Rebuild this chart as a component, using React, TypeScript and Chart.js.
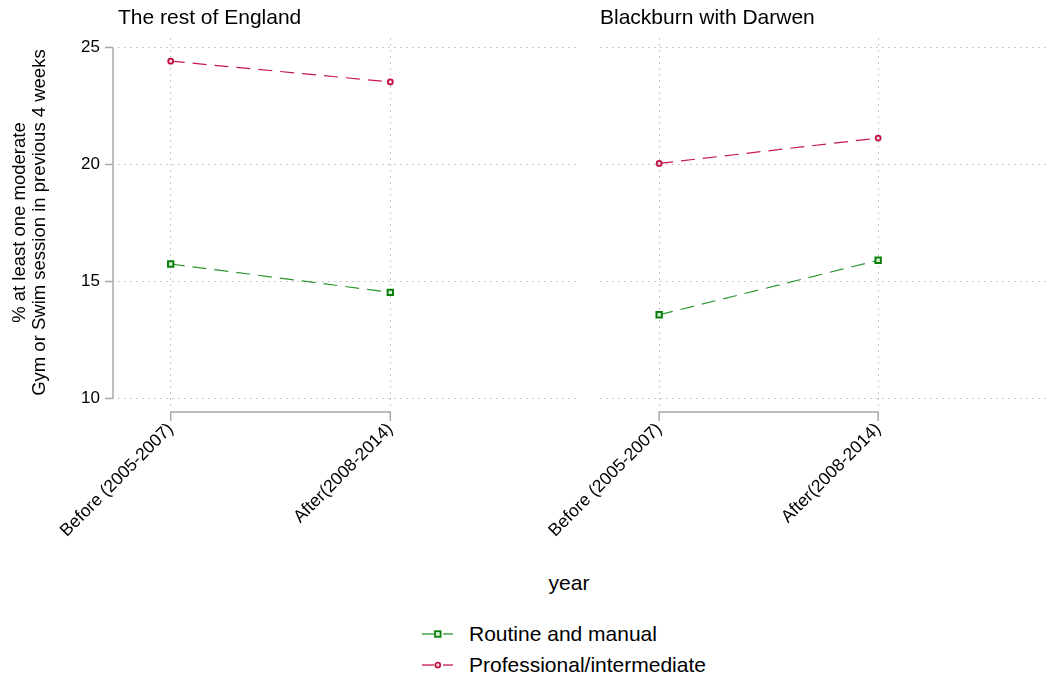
import React, { useEffect, useRef } from "react";
import { Chart, registerables } from "chart.js";

Chart.register(...registerables);

// ---------- data ----------
const periods = ["Before (2005-2007)", "After(2008-2014)"];
const periodPositions = [0, 1];
const panelTitles = ["The rest of England", "Blackburn with Darwen"];
const seriesNames = ["Routine and manual", "Professional/intermediate"];
const englandRoutine = [15.75, 14.54];
const englandProfessional = [24.42, 23.53];
const blackburnRoutine = [13.58, 15.91];
const blackburnProfessional = [20.05, 21.13];
const yTicks = [10, 15, 20, 25];
const yAxisTitle = ["% at least one moderate", "Gym or Swim session in previous 4 weeks"];
const xAxisTitle = "year";

// ---------- styles ----------
const FONT = "'Liberation Sans', Arial, Helvetica, sans-serif";
const GREEN_LINE = "#2b962b";
const GREEN_MARK = "#0a7f0a";
const GREEN_FILL = "#d6efd6";
const RED_LINE = "#c8184c";
const RED_MARK = "#c0103f";
const RED_FILL = "#f6d3dd";
const GRID = "#b8b8b8";
const AXIS = "#a8a8a8";

const stataAxes = {
  id: "stataAxes",
  afterDraw(chart: any, _args: any, opts: any) {
    const { ctx, chartArea, scales } = chart;
    const xs = scales.x;
    const ys = scales.y;
    ctx.save();
    ctx.strokeStyle = AXIS;
    ctx.lineWidth = 1.5;
    ctx.setLineDash([]);
    // x axis bracket between first and last category
    const x0 = xs.getPixelForValue(periodPositions[0]);
    const x1 = xs.getPixelForValue(periodPositions[periodPositions.length - 1]);
    const yb = chartArea.bottom + 5;
    ctx.beginPath();
    ctx.moveTo(x0, yb + 9);
    ctx.lineTo(x0, yb);
    ctx.lineTo(x1, yb);
    ctx.lineTo(x1, yb + 9);
    ctx.stroke();
    if (opts && opts.showY) {
      const xl = chartArea.left - 5;
      const yTop = ys.getPixelForValue(yTicks[yTicks.length - 1]);
      const yBot = ys.getPixelForValue(yTicks[0]);
      ctx.beginPath();
      ctx.moveTo(xl, yTop);
      ctx.lineTo(xl, yBot);
      for (const v of yTicks) {
        const p = ys.getPixelForValue(v);
        ctx.moveTo(xl - 8, p);
        ctx.lineTo(xl, p);
      }
      ctx.stroke();
    }
    ctx.restore();
  },
};

type PanelProps = {
  title: string;
  routine: number[];
  professional: number[];
  showY: boolean;
  xMin: number;
  xMax: number;
  yWidth: number;
  padRight: number;
  left: number;
  width: number;
};

const CANVAS_H = 560;
const AREA_BOTTOM = 407;

function Panel(p: PanelProps) {
  const ref = useRef<HTMLCanvasElement | null>(null);
  useEffect(() => {
    if (!ref.current) return;
    const chart = new Chart(ref.current, {
      type: "line",
      data: {
        datasets: [
          {
            label: seriesNames[0],
            data: p.routine.map((v, i) => ({ x: periodPositions[i], y: v })),
            borderColor: GREEN_LINE,
            borderWidth: 1.2,
            borderDash: [14, 8],
            pointStyle: "rect",
            pointRadius: 3.8,
            pointBorderColor: GREEN_MARK,
            pointBackgroundColor: GREEN_FILL,
            pointBorderWidth: 2,
            fill: false,
            tension: 0,
          },
          {
            label: seriesNames[1],
            data: p.professional.map((v, i) => ({ x: periodPositions[i], y: v })),
            borderColor: RED_LINE,
            borderWidth: 1.2,
            borderDash: [14, 8],
            pointStyle: "circle",
            pointRadius: 2.5,
            pointBorderColor: RED_MARK,
            pointBackgroundColor: RED_FILL,
            pointBorderWidth: 1.8,
            fill: false,
            tension: 0,
          },
        ],
      },
      options: {
        responsive: false,
        animation: false,
        devicePixelRatio: 1,
        layout: { padding: { left: 0, right: p.padRight, top: 0, bottom: 0 } },
        plugins: {
          legend: { display: false },
          tooltip: { enabled: false },
          title: {
            display: true,
            text: p.title,
            align: "start",
            fullSize: false,
            color: "#000",
            font: { family: FONT, size: 21, weight: "normal", lineHeight: 1.2 },
            padding: { top: 6, bottom: 7 },
          },
          stataAxes: { showY: p.showY },
        } as any,
        scales: {
          x: {
            type: "linear",
            min: p.xMin,
            max: p.xMax,
            afterBuildTicks: (s: any) => {
              s.ticks = periodPositions.map((v) => ({ value: v }));
            },
            afterFit: (s: any) => {
              s.height = CANVAS_H - AREA_BOTTOM;
              s.paddingLeft = 0;
              s.paddingRight = 0;
            },
            grid: { color: GRID, lineWidth: 1, drawTicks: false },
            border: { display: false, dash: [1.5, 4.5] },
            ticks: {
              autoSkip: false,
              minRotation: 45,
              maxRotation: 45,
              padding: 12,
              color: "#000",
              font: { family: FONT, size: 17.5 },
              callback: (v: any) => periods[periodPositions.indexOf(Number(v))] ?? "",
            },
          },
          y: {
            type: "linear",
            min: 9.64,
            max: 25.4,
            afterBuildTicks: (s: any) => {
              s.ticks = yTicks.map((v) => ({ value: v }));
            },
            afterFit: (s: any) => {
              s.width = p.yWidth;
              s.paddingTop = 0;
              s.paddingBottom = 0;
            },
            grid: { color: GRID, lineWidth: 1, drawTicks: false },
            border: { display: false, dash: [1.5, 4.5] },
            ticks: {
              display: p.showY,
              padding: 18,
              color: "#000",
              font: { family: FONT, size: 17 },
            },
            title: {
              display: p.showY,
              text: yAxisTitle,
              color: "#000",
              font: { family: FONT, size: 18.5, lineHeight: 1.08 },
              padding: { top: 10, bottom: 0 },
            },
          },
        },
      } as any,
      plugins: [stataAxes as any],
    });
    return () => chart.destroy();
  }, []);
  return (
    <canvas
      ref={ref}
      width={p.width}
      height={CANVAS_H}
      style={{ position: "absolute", left: p.left, top: 0, width: p.width, height: CANVAS_H }}
    />
  );
}

function LegendSymbol({ kind }: { kind: "rect" | "circle" }) {
  const line = kind === "rect" ? GREEN_LINE : RED_LINE;
  const mark = kind === "rect" ? GREEN_MARK : RED_MARK;
  const fill = kind === "rect" ? GREEN_FILL : RED_FILL;
  return (
    <svg width={34} height={12} style={{ position: "absolute", left: 420, top: -6 }}>
      <line x1={2} y1={6} x2={14} y2={6} stroke={line} strokeWidth={1.3} />
      <line x1={23} y1={6} x2={33} y2={6} stroke={line} strokeWidth={1.3} />
      {kind === "rect" ? (
        <rect x={15} y={3.2} width={5.6} height={5.6} fill={fill} stroke={mark} strokeWidth={1.8} />
      ) : (
        <circle cx={17.8} cy={6} r={2.5} fill={fill} stroke={mark} strokeWidth={1.7} />
      )}
    </svg>
  );
}

export default function App() {
  const textStyle: React.CSSProperties = {
    position: "absolute",
    fontFamily: FONT,
    fontSize: 21,
    color: "#000",
    whiteSpace: "nowrap",
    lineHeight: "24px",
  };
  return (
    <div
      style={{
        position: "fixed",
        left: 0,
        top: 0,
        width: 1055,
        height: 683,
        background: "#fff",
        overflow: "hidden",
      }}
    >
      <Panel
        title={panelTitles[0]}
        routine={englandRoutine}
        professional={englandProfessional}
        showY={true}
        xMin={-0.24}
        xMax={1.85}
        yWidth={118}
        padRight={13}
        left={0}
        width={590}
      />
      <Panel
        title={panelTitles[1]}
        routine={blackburnRoutine}
        professional={blackburnProfessional}
        showY={false}
        xMin={-0.27}
        xMax={1.78}
        yWidth={124}
        padRight={5}
        left={476}
        width={579}
      />
      <div style={{ ...textStyle, left: 0, width: 1138, top: 571, textAlign: "center" }}>{xAxisTitle}</div>
      <div style={{ position: "absolute", left: 0, top: 634, width: 1055, height: 0 }}>
        <LegendSymbol kind="rect" />
        <div style={{ ...textStyle, left: 469, top: -12 }}>{seriesNames[0]}</div>
      </div>
      <div style={{ position: "absolute", left: 0, top: 665, width: 1055, height: 0 }}>
        <LegendSymbol kind="circle" />
        <div style={{ ...textStyle, left: 469, top: -12 }}>{seriesNames[1]}</div>
      </div>
    </div>
  );
}
